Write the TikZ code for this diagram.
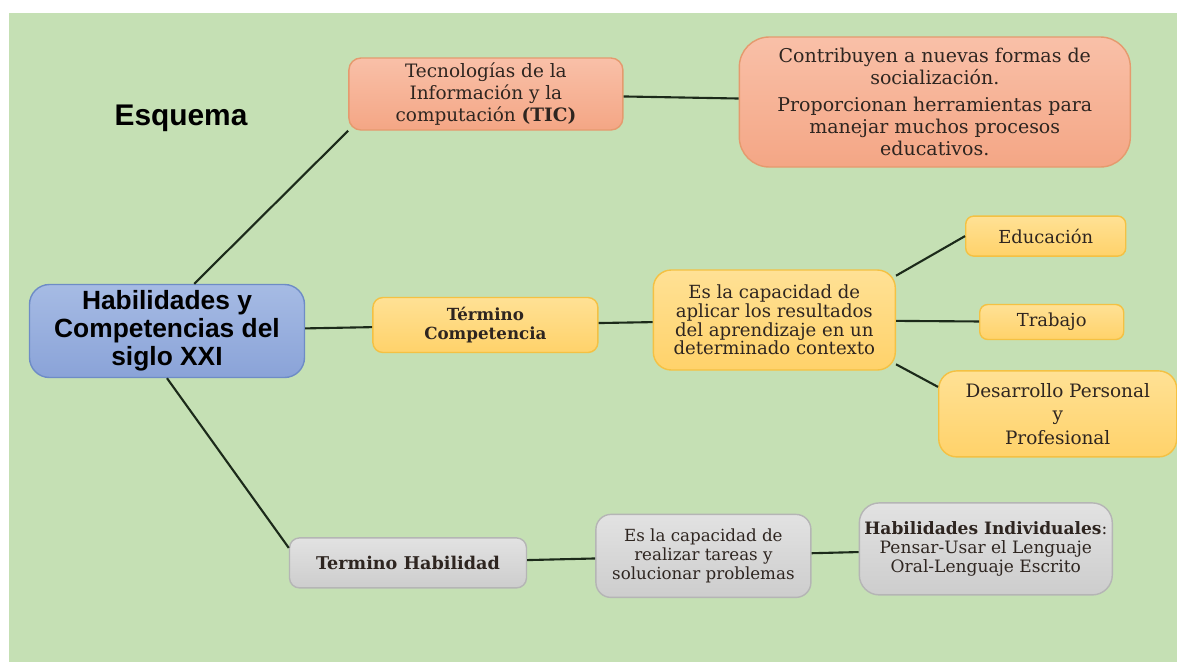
\documentclass[tikz,border=0pt]{standalone}
\usepackage{fontspec}
\setmainfont{DejaVu Serif}
\setsansfont{Liberation Sans}
\usepackage{tikz}
\usetikzlibrary{positioning}
\usepackage{xcolor}

\definecolor{fondo}{HTML}{C5E0B4}
\definecolor{texto}{HTML}{2E2520}
\definecolor{linea}{HTML}{1C2A1A}
\definecolor{azulA}{HTML}{A6BBE4}
\definecolor{azulB}{HTML}{8AA3D8}
\definecolor{azulC}{HTML}{6E8CC6}
\definecolor{salmonA}{HTML}{F9C0A8}
\definecolor{salmonB}{HTML}{F4A685}
\definecolor{salmonC}{HTML}{E59A6E}
\definecolor{amarilloA}{HTML}{FFE195}
\definecolor{amarilloB}{HTML}{FFD26A}
\definecolor{amarilloC}{HTML}{F4C143}
\definecolor{grisA}{HTML}{E2E2E2}
\definecolor{grisB}{HTML}{CDCDCD}
\definecolor{grisC}{HTML}{B5B5B5}

\begin{document}
\begin{tikzpicture}[
		every node/.style={text=texto, align=center, inner sep=2pt},
		central/.style={rectangle, rounded corners=0.4cm, draw=azulC, line width=0.8pt,
			top color=azulA, bottom color=azulB, text=black,
			font=\sffamily\bfseries\fontsize{15}{16}\selectfont,
			minimum width=5.5cm, minimum height=1.86cm},
		naranja/.style={rectangle, draw=salmonC, line width=0.8pt,
			top color=salmonA, bottom color=salmonB,
			font=\fontsize{10.5}{12.5}\selectfont},
		amarillo/.style={rectangle, draw=amarilloC, line width=0.8pt,
			top color=amarilloA, bottom color=amarilloB,
			font=\fontsize{10.3}{10.6}\selectfont},
		gris/.style={rectangle, draw=grisC, line width=0.8pt,
			top color=grisA, bottom color=grisB,
			font=\fontsize{9.5}{10.6}\selectfont},
		linea/.style={draw=linea, line width=1.2pt}
		]
		% fondo
		\useasboundingbox (0,0) rectangle (23.54,-13.24);
		\fill[fondo] (0.18,-0.26) rectangle (23.54,-13.24);
		
		% Nodos principales
		\node[text=black, font=\sffamily\bfseries\fontsize{17}{20}\selectfont] (esq) at (3.62,-2.36) {Esquema};
		\node[central] (centro) at (3.34,-6.62) {Habilidades y\\ Competencias del\\ siglo XXI};
		\node[naranja, rounded corners=0.24cm, minimum width=5.48cm, minimum height=1.44cm,
			right=0.86cm of centro, yshift=4.74cm] (tic)
			{Tecnologías de la\\ Información y la\\ computación \textbf{(TIC)}};
		\node[amarillo, rounded corners=0.2cm, minimum width=4.5cm, minimum height=1.1cm,
			font=\bfseries\fontsize{9.5}{10.5}\selectfont,
			right=1.34cm of centro, yshift=0.12cm] (comp)
			{Término\\ Competencia};
		\node[gris, rounded corners=0.2cm, minimum width=4.74cm, minimum height=1cm,
			font=\bfseries\fontsize{10}{12}\selectfont,
			below=3.18cm of centro, xshift=4.82cm] (habil)
			{Termino Habilidad};
		
		% subnodos de TIC
		\node[naranja, rounded corners=0.6cm, minimum width=7.82cm, minimum height=2.6cm,
			font=\fontsize{10.8}{12.5}\selectfont, right=2.3cm of tic, yshift=-0.16cm] (ticdesc)
			{Contribuyen a nuevas formas de\\ socialización.\\[3pt]
			 Proporcionan herramientas para\\ manejar muchos procesos\\ educativos.};
		
		% subnodos de competencia
		\node[amarillo, rounded corners=0.36cm, minimum width=4.84cm, minimum height=2cm,
			right=1.08cm of comp, yshift=0.1cm] (compdef)
			{Es la capacidad de\\ aplicar los resultados\\ del aprendizaje en un\\ determinado contexto};
		\node[amarillo, rounded corners=0.16cm, minimum width=2.88cm, minimum height=0.7cm,
			font=\fontsize{10.2}{12}\selectfont, right=1.66cm of compdef, yshift=-0.04cm] (trab) {Trabajo};
		\node[amarillo, rounded corners=0.16cm, minimum width=3.2cm, minimum height=0.8cm,
			font=\fontsize{10.2}{12}\selectfont, above=0.94cm of trab, xshift=-0.12cm] (edu) {Educación};
		\node[amarillo, rounded corners=0.36cm, minimum width=4.76cm, minimum height=1.72cm,
			font=\fontsize{10.5}{13.5}\selectfont, below=0.6cm of trab, xshift=0.12cm] (desa)
			{Desarrollo Personal\\ y\\ Profesional};
		
		% subnodos de habilidad
		\node[gris, rounded corners=0.3cm, minimum width=4.3cm, minimum height=1.66cm,
			right=1.36cm of habil, yshift=0.14cm] (habdef)
			{Es la capacidad de\\ realizar tareas y\\ solucionar problemas};
		\node[gris, rounded corners=0.4cm, minimum width=5.06cm, minimum height=1.84cm,
			font=\fontsize{9.7}{10.8}\selectfont, right=0.94cm of habdef, yshift=0.14cm] (indiv)
			{\textbf{Habilidades Individuales}:\\ Pensar-Usar el Lenguaje\\ Oral-Lenguaje Escrito};
		
		% lineas principales
		\draw[linea] (centro.60) -- (tic.south west);
		\draw[linea] (centro) -- (comp);
		\draw[linea] (centro.south) -- ([yshift=0.3cm]habil.west);
		
		% lineas de TIC
		\draw[linea] (tic) -- (ticdesc);
		
		% lineas de competencia
		\draw[linea] (comp) -- (compdef);
		\draw[linea] (compdef.20) -- (edu.west);
		\draw[linea] (compdef) -- (trab);
		\draw[linea] (compdef.-20) -- ([yshift=0.54cm]desa.west);
		
		% lineas de habilidad
		\draw[linea] (habil) -- (habdef);
		\draw[linea] (habdef) -- (indiv);
		
	\end{tikzpicture}
\end{document}
